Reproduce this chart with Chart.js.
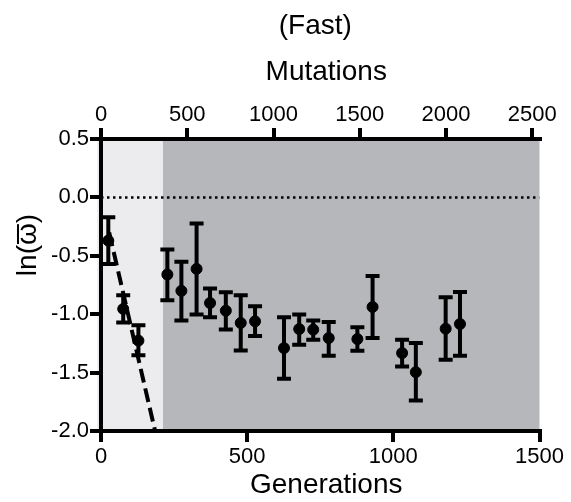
<!DOCTYPE html>
<html lang="en">
<head>
  <meta charset="UTF-8">
  <title>(Fast)</title>
  <script src="https://cdn.jsdelivr.net/npm/chart.js@4"></script>
  <style>
    html, body { margin: 0; padding: 0; background: #ffffff; }
    #wrap { width: 571px; height: 502px; }
  </style>
</head>
<body>
  <div id="wrap"><canvas id="chart"></canvas></div>
  <script>
    // generations of each sampled point
    const generations = [25, 76, 128, 227, 275, 327, 373, 427, 478, 527, 626, 678, 726, 779, 877, 929, 1030, 1077, 1179, 1228];
    // mean ln(w) and the error bar ends
    const meanLnW = [-0.37, -0.955, -1.226, -0.66, -0.80, -0.612, -0.904, -0.97, -1.075, -1.061, -1.29, -1.127, -1.132, -1.204, -1.213, -0.938, -1.333, -1.496, -1.124, -1.084];
    const upperLnW = [-0.169, -0.838, -1.095, -0.446, -0.55, -0.223, -0.78, -0.812, -0.838, -0.932, -1.027, -1.003, -1.055, -1.067, -1.112, -0.672, -1.218, -1.247, -0.855, -0.81];
    const lowerLnW = [-0.57, -1.07, -1.352, -0.88, -1.055, -1.003, -1.027, -1.132, -1.31, -1.187, -1.552, -1.261, -1.218, -1.355, -1.312, -1.204, -1.447, -1.738, -1.389, -1.355];

    // expected decline (dashed line)
    const expectedGen = [28, 185];
    const expectedLnW = [-0.30, -2];

    // shaded phases in generations: light, then dark
    const phaseEdges = [-13, 212, 1500];
    const phaseColors = ['#ececee', '#b5b7bb'];

    const genTicks = [0, 500, 1000, 1500];
    const mutTicks = [0, 500, 1000, 1500, 2000, 2500];
    const mutMax = 2542; // mutations at generation 1500
    const yTicks = [0.5, 0, -0.5, -1, -1.5, -2];

    const FONT = "'Liberation Sans', Arial, sans-serif";

    const shadePlugin = {
      id: 'shade',
      beforeDraw(chart) {
        const { ctx, chartArea, scales } = chart;
        ctx.save();
        for (let i = 0; i < phaseColors.length; i++) {
          const x0 = scales.x.getPixelForValue(phaseEdges[i]);
          const x1 = scales.x.getPixelForValue(phaseEdges[i + 1]);
          ctx.fillStyle = phaseColors[i];
          ctx.fillRect(x0, chartArea.top, x1 - x0, chartArea.bottom - chartArea.top);
        }
        ctx.restore();
      }
    };

    const errorBarPlugin = {
      id: 'errorBars',
      afterDatasetsDraw(chart) {
        const { ctx, scales } = chart;
        ctx.save();
        ctx.strokeStyle = '#000';
        ctx.lineWidth = 4;
        const cap = 7;
        generations.forEach((g, i) => {
          const x = scales.x.getPixelForValue(g);
          const yt = scales.y.getPixelForValue(upperLnW[i]);
          const yb = scales.y.getPixelForValue(lowerLnW[i]);
          ctx.beginPath();
          ctx.moveTo(x, yt); ctx.lineTo(x, yb);
          ctx.moveTo(x - cap, yt); ctx.lineTo(x + cap, yt);
          ctx.moveTo(x - cap, yb); ctx.lineTo(x + cap, yb);
          ctx.stroke();
        });
        ctx.restore();
      }
    };

    // chart and axis titles, placed like the original figure
    const titlesPlugin = {
      id: 'titles',
      afterDraw(chart) {
        const { ctx, chartArea } = chart;
        const cx = (chartArea.left + chartArea.right) / 2;
        ctx.save();
        ctx.fillStyle = '#000';
        ctx.font = '28px ' + FONT;
        ctx.textAlign = 'center';
        ctx.textBaseline = 'middle';
        ctx.fillText('(Fast)', cx - 5, 26);
        ctx.fillText('Mutations', cx + 6, 72);
        ctx.fillText('Generations', cx + 6, 485);

        // y title: ln(ω) with a bar over the ω
        const label = 'ln(\u03c9)';
        ctx.translate(28, 245);
        ctx.rotate(-Math.PI / 2);
        ctx.fillText(label, 0, 0);
        const full = ctx.measureText(label).width;
        const pre = ctx.measureText('ln(').width;
        const om = ctx.measureText('\u03c9').width;
        const x0 = -full / 2 + pre + 1;
        ctx.fillRect(x0, -11, om - 2, 2);
        ctx.restore();
      }
    };

    const points = generations.map((g, i) => ({ x: g, y: meanLnW[i] }));
    const expected = expectedGen.map((g, i) => ({ x: g, y: expectedLnW[i] }));
    const zeroLine = [{ x: 0, y: 0 }, { x: 1500, y: 0 }];

    const axisLine = { display: true, color: '#000', width: 4 };
    const tickGrid = { drawOnChartArea: false, drawTicks: true, tickLength: 11, lineWidth: 4, color: '#000' };
    const tickFont = { family: FONT, size: 22 };

    new Chart(document.getElementById('chart'), {
      type: 'scatter',
      data: {
        datasets: [
          {
            label: 'zero',
            type: 'line',
            data: zeroLine,
            borderColor: '#000',
            borderWidth: 2.5,
            borderDash: [2.5, 3.5],
            pointRadius: 0,
            order: 3
          },
          {
            label: 'expected',
            type: 'line',
            data: expected,
            borderColor: '#000',
            borderWidth: 4,
            borderDash: [14, 6],
            pointRadius: 0,
            order: 2
          },
          {
            label: 'ln(w)',
            data: points,
            backgroundColor: '#000',
            borderColor: '#000',
            pointRadius: 5.5,
            pointHoverRadius: 5.5,
            order: 1
          }
        ]
      },
      options: {
        responsive: true,
        maintainAspectRatio: false,
        animation: false,
        layout: { padding: { left: 0, right: 31.5, top: 0, bottom: 0 } },
        plugins: {
          legend: { display: false },
          tooltip: { enabled: false },
          title: { display: false }
        },
        scales: {
          x: {
            type: 'linear',
            position: 'bottom',
            min: 0,
            max: 1500,
            afterBuildTicks: s => { s.ticks = genTicks.map(v => ({ value: v })); },
            afterFit: s => { s.height = 71; },
            border: axisLine,
            grid: tickGrid,
            ticks: { color: '#000', font: tickFont, padding: 2, maxRotation: 0, callback: v => String(v) }
          },
          x2: {
            type: 'linear',
            position: 'top',
            min: 0,
            max: mutMax,
            afterBuildTicks: s => { s.ticks = mutTicks.map(v => ({ value: v })); },
            afterFit: s => { s.height = 139; },
            border: axisLine,
            grid: tickGrid,
            ticks: { color: '#000', font: tickFont, padding: 0, maxRotation: 0, callback: v => String(v) }
          },
          y: {
            type: 'linear',
            min: -2,
            max: 0.5,
            afterBuildTicks: s => { s.ticks = yTicks.map(v => ({ value: v })); },
            afterFit: s => { s.width = 101; },
            border: axisLine,
            grid: tickGrid,
            ticks: {
              color: '#000',
              font: tickFont,
              padding: 1,
              callback: v => v.toFixed(1)
            }
          }
        }
      },
      plugins: [shadePlugin, errorBarPlugin, titlesPlugin]
    });
  </script>
</body>
</html>
